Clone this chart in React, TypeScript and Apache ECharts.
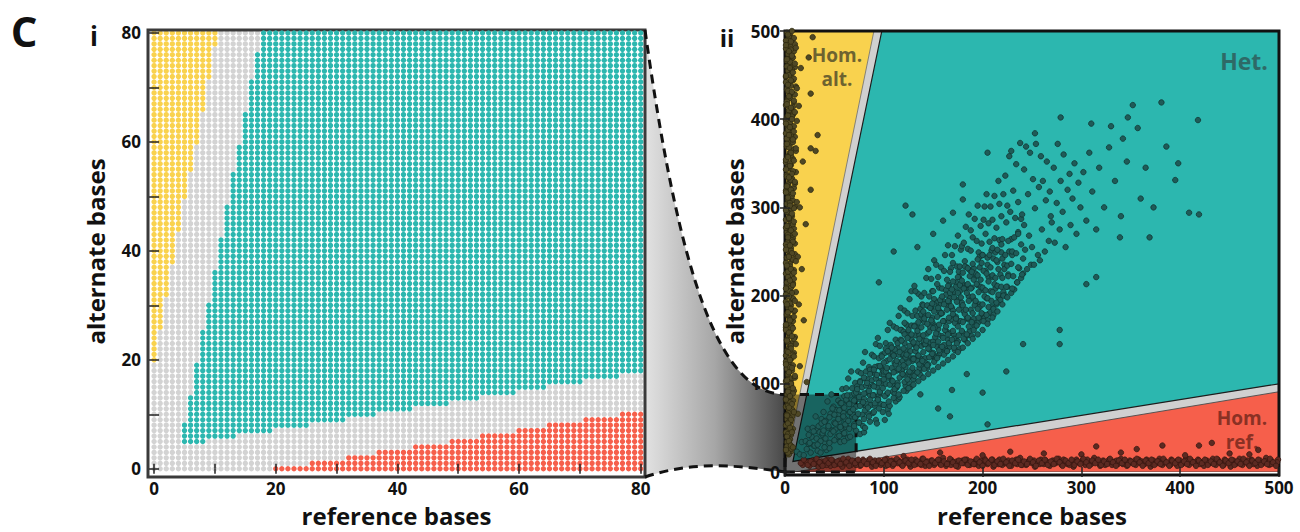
import React, { useEffect, useRef } from "react";
import * as echarts from "echarts";

const FONT = '"Open Sans", "DejaVu Sans", sans-serif';

// ---------- panel i : genotype call for every (reference, alternate) depth ----------
const depthAxisLabels = [0, 20, 40, 60, 80];
const depthAxisTicks = [0, 10, 20, 30, 40, 50, 60, 70, 80];
// hom. alt. when alternate >= homAltFrom[ref] (ref 0..10)
const homAltFrom = [20, 26, 32, 38, 44, 50, 55, 60, 66, 72, 78];
// het. when hetFrom[ref] <= alternate <= hetTo[ref]
const hetFrom = [
  null, null, null, null, null, 5, 5, 5, 5, 6,
  6, 6, 6, 6, 7, 7, 7, 7, 7, 7,
  8, 8, 8, 8, 8, 8, 9, 9, 9, 9,
  9, 9, 10, 10, 10, 10, 10, 11, 11, 11,
  11, 11, 11, 12, 12, 12, 12, 12, 12, 13,
  13, 13, 13, 13, 14, 14, 14, 14, 14, 14,
  15, 15, 15, 15, 15, 16, 16, 16, 16, 16,
  16, 17, 17, 17, 17, 17, 17, 18, 18, 18,
  18,
];
const hetTo = [
  null, null, null, null, null, 8, 13, 19, 25, 30,
  36, 42, 48, 54, 59, 65, 71, 76, 80, 80,
  80, 80, 80, 80, 80, 80, 80, 80, 80, 80,
  80, 80, 80, 80, 80, 80, 80, 80, 80, 80,
  80, 80, 80, 80, 80, 80, 80, 80, 80, 80,
  80, 80, 80, 80, 80, 80, 80, 80, 80, 80,
  80, 80, 80, 80, 80, 80, 80, 80, 80, 80,
  80, 80, 80, 80, 80, 80, 80, 80, 80, 80,
  80,
];
// hom. ref. when alternate <= homRefTo[ref]
const homRefTo = [
  null, null, null, null, null, null, null, null, null, null,
  null, null, null, null, null, null, null, null, null, null,
  0, 0, 0, 0, 0, 0, 1, 1, 1, 1,
  1, 1, 2, 2, 2, 2, 2, 3, 3, 3,
  3, 3, 3, 4, 4, 4, 4, 4, 4, 5,
  5, 5, 5, 5, 6, 6, 6, 6, 6, 6,
  7, 7, 7, 7, 7, 8, 8, 8, 8, 8,
  8, 9, 9, 9, 9, 9, 9, 10, 10, 10,
  10,
];

// ---------- panel ii ----------
const bigAxisTicks = [0, 100, 200, 300, 400, 500];
const regionHomAlt = [[0, 6], [0, 500], [90, 500]];
const regionHet = [[98, 500], [500, 500], [500, 100], [8, 12]];
const regionHomRef = [[10, 0], [500, 0], [500, 91]];
const zoomBox = [72, 88];

const homAltSites = [
  [2,498],[5,495],[8,491],[3,487],[6,483],[1,480],[9,477],[4,473],[7,469],[2,466],[5,462],[10,459],[3,455],[6,451],[1,448],[8,444],[4,441],[11,437],[2,434],[7,430],[5,427],[3,423],[9,419],[1,416],[6,412],[4,409],[8,405],[2,402],[12,398],[5,394],[3,391],[7,387],[1,384],[10,380],[4,376],[6,373],[2,369],[9,366],[5,362],[3,358],[8,355],[1,351],[6,348],[4,344],[11,340],[2,337],[7,333],[5,330],[3,326],[9,322],[1,319],[6,315],[4,312],[8,308],[2,304],[10,301],[5,297],[3,294],[7,290],[1,286],[6,283],[4,279],[9,276],[2,272],[5,268],[8,265],[3,261],[1,258],[6,254],[4,250],[10,247],[2,243],[7,240],[5,236],[3,232],[9,229],[1,225],[6,222],[4,218],[8,214],[2,211],[5,207],[11,204],[3,200],[7,196],[1,193],[6,189],[4,186],[9,182],[2,178],[5,175],[8,171],[3,168],[1,164],[6,160],[4,157],[10,153],[2,150],[7,146],[5,142],[3,139],[9,135],[1,132],[6,128],[4,124],[8,121],[2,117],[5,114],[3,110],[7,106],[1,103],[6,99],[4,96],[9,92],[2,88],[5,85],[8,81],[3,78],[1,74],[6,70],[4,67],[7,63],[2,60],[5,56],[3,52],[8,49],[1,45],[6,42],[4,38],[2,34],[5,31],[3,27],[7,24],[4,20],
  [7,500],[4,494],[1,489],[10,485],[6,479],[3,474],[8,470],[5,465],[2,460],[7,456],[4,450],[9,446],[1,442],[6,438],[3,432],[10,428],[5,424],[2,420],[8,414],[4,410],[7,403],[1,399],[5,396],[9,392],[3,388],[6,382],[2,378],[8,374],[4,368],[11,364],[6,359],[1,354],[5,350],[3,346],[8,341],[2,335],[6,331],[10,327],[4,323],[1,317],[7,313],[3,309],[5,305],[9,299],[2,295],[6,291],[4,287],[8,281],[1,277],[5,273],[3,269],[7,263],[10,259],[2,255],[6,251],[4,245],[8,241],[1,237],[5,233],[3,227],[7,223],[9,219],[2,215],[6,209],[4,205],[1,201],[8,197],[5,191],[3,187],[10,183],[2,179],[6,173],[4,169],[7,165],[1,161],[5,155],[9,151],[3,147],[6,143],[2,137],[8,133],[4,129],[1,125],[5,119],[7,115],[3,111],[10,107],[6,101],[2,97],[4,93],[8,89],[1,83],[5,79],[3,75],[7,71],[2,65],[5,61],[4,57],[1,53],[6,47],[3,43],[5,37],[2,29],[6,26],[3,22],
  [28,493],[24,470],[16,458],[26,429],[14,415],[33,382],[26,367],[31,364],[18,352],[26,320],[15,300],[21,281],[13,244],[17,230],[14,190],[19,172],[15,120],[22,102],[13,66],
];
const homAltSitesDense = [
  [3,496],[9,492],[6,488],[1,484],[11,481],[4,477],[7,472],[2,468],[10,463],[5,458],[8,453],[1,449],[6,444],[3,439],[12,435],[7,431],[4,426],[9,421],[2,417],[6,413],[10,408],[3,404],[7,400],[1,395],[5,391],[9,386],[4,382],[8,377],[2,372],[11,367],[6,362],[3,357],[9,353],[5,347],[1,343],[7,338],[4,334],[10,329],[2,324],[6,320],[8,316],[3,311],[12,306],[5,302],[1,297],[7,293],[4,288],[9,284],[2,279],[6,274],[10,270],[3,266],[8,261],[5,257],[1,252],[7,248],[4,244],[11,239],[2,234],[6,230],[9,226],[3,221],[5,217],[8,212],[1,208],[7,203],[4,199],[10,194],[2,190],[6,185],[3,181],[9,176],[5,172],[1,167],[8,163],[4,158],[7,154],[2,149],[11,145],[6,140],[3,136],[9,131],[5,127],[1,122],[7,118],[4,113],[10,109],[2,104],[6,100],[8,95],[3,91],[5,86],[1,82],[7,77],[4,73],[9,68],[2,64],[6,59],[3,55],[5,50],[7,45],[2,40],[4,35],[6,30],[1,25],[8,28],
];

const homRefSites = [
  [18,8],[22,11],[25,7],[28,13],[31,9],[34,6],[37,12],[40,10],[43,14],[46,7],[49,11],[52,9],[55,13],[58,6],[61,10],[64,15],[67,8],[70,12],[73,10],[76,7],[79,14],[82,9],[85,11],[88,6],[91,13],[94,10],[97,8],[100,12],[103,15],[106,9],[109,7],[112,11],[115,13],[118,8],[121,10],[124,14],[127,6],[130,12],[133,9],[136,11],[139,15],[142,7],[145,10],[148,13],[151,8],[154,12],[157,9],[160,16],[163,7],[166,11],[169,13],[172,9],[175,6],[178,12],[181,10],[184,14],[187,8],[190,11],[193,13],[196,7],[199,10],[202,15],[205,9],[208,12],[211,6],[214,11],[217,14],[220,8],[223,10],[226,13],[229,7],[232,12],[235,9],[238,16],[241,11],[244,8],[247,13],[250,10],[253,6],[256,12],[259,14],[262,9],[265,11],[268,7],[271,13],[274,10],[277,15],[280,8],[283,12],[286,9],[289,11],[292,6],[295,14],[298,10],[301,13],[304,8],[307,12],[310,9],[313,16],[316,11],[319,7],[322,13],[325,10],[328,14],[331,8],[334,12],[337,9],[340,15],[343,11],[346,7],[349,13],[352,10],[355,8],[358,14],[361,12],[364,9],[367,11],[370,6],[373,13],[376,10],[379,15],[382,8],[385,12],[388,9],[391,14],[394,11],[397,7],[400,13],[403,10],[406,16],[409,8],[412,12],[415,9],[418,14],[421,11],[424,7],[427,13],[430,10],[433,15],[436,8],[439,12],[442,9],[445,14],[448,11],[451,6],[454,13],[457,10],[460,15],[463,8],[466,12],[469,9],[472,14],[475,11],[478,7],[481,13],[484,10],[487,16],[490,8],[493,12],[496,10],[499,14],
  [30,12],[36,9],[42,8],[48,13],[54,10],[60,12],[66,11],[72,8],[78,11],[84,13],[90,9],[96,12],[102,7],[108,13],[114,10],[120,12],[126,9],[132,14],[138,8],[144,12],[150,11],[156,14],[162,10],[168,8],[174,12],[180,13],[186,10],[192,9],[198,13],[204,11],[210,14],[216,9],[222,12],[228,10],[234,14],[240,8],[246,11],[252,13],[258,9],[264,13],[270,10],[276,12],[282,14],[288,8],[294,11],[300,10],[306,14],[312,12],[318,10],[324,8],[330,12],[336,13],[342,9],[348,11],[354,13],[360,10],[366,14],[372,9],[378,12],[384,11],[390,8],[396,12],[402,9],[408,13],[414,11],[420,9],[426,12],[432,11],[438,14],[444,8],[450,12],[456,9],[462,11],[468,13],[474,9],[480,11],[486,12],[492,9],[498,11],
  [157,22],[228,23],[315,29],[382,30],[419,30],[432,33],[479,25],[356,26],[262,21],[300,20],[340,22],[405,19],[450,21],[200,19],[120,18],[470,20],
];
const homRefSitesDense = [
  [16,10],[19,14],[23,8],[26,12],[29,9],[32,15],[35,11],[38,7],[41,13],[44,10],[47,14],[50,8],[53,12],[56,9],[59,15],[62,11],[65,7],[68,13],[71,10],[74,14],[77,8],[80,12],[83,9],[86,15],[89,11],[92,7],[95,13],[98,10],[101,14],[104,8],[107,12],[110,9],[113,15],[116,11],[119,7],[122,13],[125,10],[128,14],[131,8],[134,12],[137,9],[140,15],[143,11],[146,7],[149,13],[152,10],[155,14],[158,8],[161,12],[164,9],[167,15],[170,11],[173,7],[176,13],[179,10],[182,14],[185,8],[188,12],[191,9],[194,15],[197,11],[200,7],[203,13],[206,10],[209,14],[212,8],[215,12],[218,9],[221,15],[224,11],[227,7],[230,13],[233,10],[236,14],[239,8],[242,12],[245,9],[248,15],[251,11],[254,7],[257,13],[260,10],[263,14],[266,8],[269,12],[272,9],[275,15],[278,11],[281,7],[284,13],[287,10],[290,14],[293,8],[296,12],[299,9],[302,15],[305,11],[308,7],[311,13],[314,10],[317,14],[320,8],[323,12],[326,9],[329,15],[332,11],[335,7],[338,13],[341,10],[344,14],[347,8],[350,12],[353,9],[356,15],[359,11],[362,7],[365,13],[368,10],[371,14],[374,8],[377,12],[380,9],[383,15],[386,11],[389,7],[392,13],[395,10],[398,14],[401,8],[404,12],[407,9],[410,15],[413,11],[416,7],[419,13],[422,10],[425,14],[428,8],[431,12],[434,9],[437,15],[440,11],[443,7],[446,13],[449,10],[452,14],[455,8],[458,12],[461,9],[464,15],[467,11],[470,7],[473,13],[476,10],[479,14],[482,8],[485,12],[488,9],[491,15],[494,11],[497,7],
];

const hetSites = [
  [12,23],[15,20],[17,34],[19,19],
  [21,35],[23,49],[24,32],[26,22],[28,50],[29,30],
  [31,63],[32,47],[33,24],[35,45],[36,22],[37,60],[38,42],[39,68],
  [40,34],[41,58],[42,25],[43,80],[44,50],[45,27],[46,66],[47,88],[48,47],[49,74],
  [50,56],[51,48],[52,70],[53,40],[54,65],[54,81],[55,57],[56,34],[56,78],[57,49],[58,94],[58,71],[59,43],[59,67],
  [60,35],[60,86],[61,60],[62,95],[62,51],[63,80],[64,39],[64,106],[65,68],[66,40],[66,87],[67,114],[68,63],[68,95],[69,76],[69,65],
  [70,89],[70,54],[71,82],[71,101],[72,74],[72,47],[73,97],[73,64],[74,114],[74,89],[75,56],[75,83],[76,43],[76,103],[77,76],[77,112],[78,65],[78,96],[79,52],[79,124],
  [80,83],[80,45],[81,106],[81,136],[82,74],[82,114],[83,90],[83,77],[84,105],[84,66],[85,97],[85,119],[86,87],[86,57],[87,114],[87,76],[88,133],[88,104],[89,67],[89,98],[81,50],[86,116],
  [90,87],[90,131],[91,75],[91,111],[92,59],[92,145],[93,96],[93,55],[94,120],[94,152],[95,87],[95,129],[96,103],[96,90],[97,119],[97,77],[98,111],[98,133],[99,100],[99,68],[91,119],[94,82],[96,143],[99,115],
  [100,76],[100,110],[101,59],[101,135],[102,100],[102,146],[103,88],[103,126],[104,71],[104,161],[105,110],[105,66],[106,135],[106,169],[107,100],[107,144],[108,118],[108,104],[109,135],[109,91],[100,114],[102,140],[104,107],[106,75],[108,140],[109,99],
  [110,165],[110,132],[111,89],[111,124],[112,80],[112,150],[113,115],[113,163],[114,101],[114,141],[115,83],[115,177],[116,124],[116,85],[117,150],[117,186],[118,114],[118,161],[119,132],[119,117],[111,139],[113,96],[115,133],[117,161],[119,126],[112,95],
  [120,159],[120,110],[121,183],[121,146],[122,98],[122,138],[123,92],[123,167],[124,127],[124,180],[125,112],[125,155],[126,100],[126,196],[127,137],[127,96],[128,166],[128,205],[129,126],[129,177],[120,133],[122,119],[124,157],[126,108],[128,150],[121,169],[125,132],[129,108],
  [130,145],[130,129],[131,166],[131,113],[132,155],[132,183],[133,142],[133,112],[134,177],[134,126],[135,202],[135,163],[136,114],[136,155],[137,110],[137,185],[138,143],[138,199],[139,128],[139,173],[130,105],[132,205],[134,146],[136,118],[138,179],[131,211],[135,132],[139,190],
  [140,120],[140,189],[141,145],[141,203],[142,129],[142,177],[143,122],[143,220],[144,157],[144,118],[145,188],[145,230],[146,143],[146,199],[147,164],[147,147],[148,186],[148,131],[149,175],[149,205],[140,149],[142,124],[144,189],[146,139],[148,219],[141,170],[145,122],[149,170],
  [150,205],[150,148],[151,240],[151,196],[152,128],[152,166],[153,235],[153,130],[154,192],[154,142],[155,221],[155,162],[156,209],[156,133],[157,179],[157,135],[158,191],[158,232],[159,154],[159,208],[150,135],[152,164],[154,213],[156,183],[158,142],[151,190],[155,156],[159,180],
  [160,194],[160,140],[161,228],[161,171],[162,246],[162,140],[163,206],[163,160],[164,218],[164,137],[165,189],[165,257],[166,171],[166,212],[167,142],[167,197],[168,231],[168,158],[169,186],[169,246],[161,144],[163,201],[165,150],[167,227],[169,173],[166,193],
  [170,183],[170,237],[171,156],[171,204],[172,256],[172,138],[173,215],[173,176],[174,233],[174,149],[175,195],[175,268],[176,171],[176,227],[177,140],[177,205],[178,252],[178,171],[179,189],[179,256],[171,151],[173,210],[175,148],[177,233],[179,192],[176,221],
  [180,213],[180,158],[181,260],[181,182],[182,239],[182,150],[183,208],[183,278],[184,174],[184,232],[185,155],[185,253],[186,199],[186,292],[187,160],[187,229],[188,184],[188,251],[189,209],[189,154],[182,233],[184,212],[186,173],[188,274],
  [190,197],[190,266],[191,174],[191,231],[192,287],[192,165],[193,222],[193,192],[194,262],[194,169],[195,302],[195,212],[196,249],[196,170],[197,244],[197,190],[198,279],[198,210],[199,172],[199,259],[193,225],[197,187],
  [200,246],[200,179],[201,286],[201,206],[202,301],[202,175],[203,228],[203,270],[204,197],[204,315],[205,172],[205,243],[206,221],[206,282],[207,180],[207,261],[208,205],[208,301],[209,187],[209,251],
  [210,221],[210,286],[211,178],[212,265],[212,313],[213,208],[213,249],[214,190],[214,277],[215,238],[216,330],[216,198],[217,263],[217,304],[218,195],[218,224],[219,290],[219,249],
  [220,264],[221,204],[221,315],[222,235],[223,336],[223,200],[224,283],[225,210],[225,302],[226,224],[227,358],[227,250],[228,295],[229,203],[229,264],
  [230,246],[231,319],[232,207],[233,288],[234,349],[235,215],[236,272],[236,306],[237,231],[238,373],[239,220],[239,287],
  [240,292],[241,225],[242,343],[243,252],[244,369],[245,230],[246,315],[247,268],[248,362],[249,235],
  [250,255],[251,332],[252,235],[253,299],[254,372],[256,246],[257,323],[258,240],[259,358],
  [260,275],[261,330],[263,250],[264,308],[265,352],[267,262],[268,318],[269,290],
  [270,283],[272,345],[273,260],[275,305],[276,372],[278,275],[279,330],
  [281,295],[282,360],[284,255],[286,320],[288,338],[289,280],
  [291,310],[293,350],[295,270],[297,328],[299,300],
  [302,340],[305,285],[308,362],[311,318],[315,275],[318,345],
  [323,300],[328,368],[334,330],[340,290],[346,352],
  [352,416],[381,419],[418,399],[347,402],[279,402],[386,369],[357,390],[342,378],[365,345],[395,331],[360,310],[409,294],[419,292],[373,300],[398,350],[330,392],[310,395],
  [205,362],[229,364],[253,384],[122,302],[129,292],[170,294],[180,326],[180,309],[134,255],[150,270],[110,250],[95,215],[160,285],
  [369,266],[339,266],[315,221],[305,213],[278,161],[278,145],[241,145],[224,114],[200,90],[205,54],[167,63],[155,72],[184,111],[169,93],[137,88],
];
const hetCoreSites = [
  [22,26],[25,33],[27,40],[30,30],[32,38],[34,52],[36,35],[38,44],[24,42],[29,46],[33,31],[37,55],
  [40,28],[41,38],[39,47],[40,57],[45,33],[46,43],[44,52],[45,62],
  [50,36],[49,46],[51,55],[50,65],[48,72],[55,41],[56,51],[54,60],[55,70],[57,78],
  [60,44],[61,54],[59,63],[60,73],[62,82],[65,49],[64,58],[66,68],[65,77],[63,87],
  [70,52],[71,62],[69,71],[70,81],[72,90],[75,56],[74,66],[76,75],[75,85],[73,94],[76,102],
  [80,60],[81,70],[79,79],[80,89],[82,98],[80,107],[85,63],[84,73],[86,82],[85,92],[83,101],[86,111],
  [90,68],[91,78],[89,87],[90,97],[92,106],[90,116],[95,72],[94,82],[96,91],[95,101],[93,110],[96,120],
  [100,76],[101,86],[99,95],[100,105],[102,114],[100,124],[98,131],[105,80],[104,90],[106,99],[105,109],[103,118],[106,128],[104,137],
  [110,84],[111,94],[109,103],[110,113],[112,122],[110,132],[108,141],[115,88],[114,98],[116,107],[115,117],[113,126],[116,136],[114,146],
  [120,92],[121,102],[119,111],[120,121],[122,130],[120,140],[118,149],[121,156],[125,95],[124,105],[126,114],[125,124],[123,133],[126,143],[124,152],[125,161],
  [130,99],[131,109],[129,118],[130,128],[132,137],[130,147],[128,156],[131,165],[135,103],[134,113],[136,122],[135,132],[133,141],[136,151],[134,160],[135,170],
  [140,107],[141,117],[139,126],[140,136],[142,145],[140,155],[138,164],[141,174],[140,182],[145,111],[144,121],[146,130],[145,140],[143,149],[146,159],[144,168],[145,178],[147,186],
  [150,115],[151,125],[149,134],[150,144],[152,153],[150,163],[148,172],[151,182],[149,191],[155,119],[154,129],[156,138],[155,148],[153,157],[156,167],[154,176],[155,186],[157,195],
  [160,123],[161,133],[159,142],[160,152],[162,161],[160,171],[158,180],[161,190],[159,199],[165,127],[164,137],[166,146],[165,156],[163,165],[166,175],[164,184],[165,194],[167,203],[165,211],
  [170,131],[171,141],[169,150],[170,160],[172,169],[170,179],[168,188],[171,198],[169,207],[170,216],[175,136],[174,146],[176,155],[175,165],[173,174],[176,184],[174,193],[175,203],[177,212],[175,221],
  [180,141],[181,151],[179,160],[180,170],[182,179],[180,189],[178,198],[181,208],[179,217],[180,226],[185,146],[184,156],[186,165],[185,175],[183,184],[186,194],[184,203],[185,213],[187,222],[185,231],
  [190,151],[191,161],[189,170],[190,180],[192,189],[190,199],[188,208],[191,218],[189,227],[190,236],[195,156],[194,166],[196,175],[195,185],[193,194],[196,204],[194,213],[195,223],[197,232],[195,241],
  [200,161],[201,171],[199,180],[200,190],[202,199],[200,209],[198,218],[201,228],[199,237],[200,246],[205,168],[204,178],[206,187],[205,197],[203,206],[206,216],[204,225],[205,235],[207,246],
  [210,175],[211,185],[209,194],[210,204],[212,213],[210,223],[208,232],[211,242],[210,254],[215,182],[214,192],[216,201],[215,211],[213,220],[216,230],[214,240],[215,252],
  [220,190],[221,200],[219,210],[220,220],[222,230],[220,242],[219,258],[225,198],[224,210],[226,222],[225,234],[223,246],[226,262],
  [230,208],[231,222],[229,236],[230,250],[232,266],[235,215],[236,232],[234,248],[236,270],[240,224],[241,242],[239,258],[242,280],
];

const COLORS = {
  homAlt: "#F9D24E",
  none: "#D3D3D3",
  het: "#2CB7AF",
  homRef: "#F65F4B",
};

function buildOption() {
  const alt: number[][] = [];
  const none: number[][] = [];
  const het: number[][] = [];
  const ref: number[][] = [];
  for (let r = 0; r < hetTo.length; r++) {
    for (let a = 0; a <= 80; a++) {
      const p = [r, a];
      if (r < homAltFrom.length && a >= homAltFrom[r]) alt.push(p);
      else if (hetFrom[r] != null && a >= (hetFrom[r] as number) && a <= (hetTo[r] as number)) het.push(p);
      else if (homRefTo[r] != null && a <= (homRefTo[r] as number)) ref.push(p);
      else none.push(p);
    }
  }

  const tickLabel = { fontFamily: FONT, fontWeight: "bold" as const, fontSize: 17, color: "#111" };
  const nameStyle = { fontFamily: FONT, fontWeight: "bold" as const, fontSize: 24, color: "#111" };
  const tickStyle = { color: "#222", width: 1.5 };

  const leftX = (pos: string, labels: boolean) => ({
    gridIndex: 0, type: "value", position: pos, min: -1, max: 80.7, z: 10,
    axisLine: { show: false }, splitLine: { show: false },
    axisTick: { show: true, inside: true, length: 5, customValues: depthAxisTicks, lineStyle: tickStyle },
    axisLabel: { show: labels, customValues: depthAxisLabels, margin: 7, ...tickLabel },
    ...(labels ? { name: "reference bases", nameLocation: "middle", nameGap: 30, nameTextStyle: nameStyle } : {}),
  });
  const leftY = (pos: string, labels: boolean) => ({
    gridIndex: 0, type: "value", position: pos, min: -0.78, max: 80.55, z: 10,
    axisLine: { show: false }, splitLine: { show: false },
    axisTick: { show: true, inside: true, length: 5, customValues: depthAxisTicks, lineStyle: tickStyle },
    axisLabel: { show: labels, customValues: depthAxisLabels, margin: 7, ...tickLabel },
    ...(labels ? { name: "alternate bases", nameLocation: "middle", nameGap: 41, nameTextStyle: nameStyle } : {}),
  });
  const rightX = (pos: string, labels: boolean) => ({
    gridIndex: 1, type: "value", position: pos, min: 0, max: 500, interval: 100, z: 10,
    axisLine: { show: false }, splitLine: { show: false },
    axisTick: { show: true, inside: true, length: 5, lineStyle: tickStyle },
    axisLabel: { show: labels, customValues: bigAxisTicks, margin: 7, ...tickLabel },
    ...(labels ? { name: "reference bases", nameLocation: "middle", nameGap: 31, nameTextStyle: nameStyle } : {}),
  });
  const rightY = (pos: string, labels: boolean) => ({
    gridIndex: 1, type: "value", position: pos, min: 0, max: 500, interval: 100, z: 10,
    axisLine: { show: false }, splitLine: { show: false },
    axisTick: { show: true, inside: true, length: 5, lineStyle: tickStyle },
    axisLabel: { show: labels, customValues: bigAxisTicks, margin: 5, ...tickLabel },
    ...(labels ? { name: "alternate bases", nameLocation: "middle", nameGap: 31, nameTextStyle: nameStyle } : {}),
  });

  const regions = [
    { pts: regionHomAlt, fill: COLORS.homAlt, stroke: "#6d6d6d", lw: 0.8 },
    { pts: regionHet, fill: COLORS.het, stroke: "#1d1d1d", lw: 1.2 },
    { pts: regionHomRef, fill: COLORS.homRef, stroke: "#4a4a4a", lw: 0.9 },
  ];

  const dots = (data: number[][], color: string) => ({
    type: "scatter", xAxisIndex: 0, yAxisIndex: 0, data, symbolSize: 5.4, silent: true, z: 2,
    itemStyle: { color, opacity: 1 },
  });
  const sites = (data: number[][], color: string, border: string) => ({
    type: "scatter", xAxisIndex: 2, yAxisIndex: 2, data, symbolSize: 5.5, silent: true, z: 3,
    itemStyle: { color, borderColor: border, borderWidth: 0.7, opacity: 1 },
  });

  return {
    animation: false,
    backgroundColor: "#ffffff",
    grid: [
      { left: 148, top: 30, width: 497, height: 447, show: false },
      { left: 785, top: 31, width: 494, height: 444, show: true, backgroundColor: "#D0D0D0", borderWidth: 0 },
    ],
    xAxis: [leftX("bottom", true), leftX("top", false), rightX("bottom", true), rightX("top", false)],
    yAxis: [leftY("left", true), leftY("right", false), rightY("left", true), rightY("right", false)],
    series: [
      dots(none, COLORS.none),
      dots(alt, COLORS.homAlt),
      dots(het, COLORS.het),
      dots(ref, COLORS.homRef),
      {
        type: "custom", xAxisIndex: 2, yAxisIndex: 2, silent: true, z: 1, clip: true,
        data: regions.map((r) => [r.pts[0][0], r.pts[0][1]]),
        renderItem: (params: any, api: any) => {
          const r = regions[params.dataIndex];
          return {
            type: "polygon",
            shape: { points: r.pts.map((p) => api.coord(p)) },
            style: { fill: r.fill, stroke: r.stroke, lineWidth: r.lw },
          };
        },
      },
      sites(homAltSites.concat(homAltSitesDense), "#4f4825", "#29250f"),
      sites(homRefSites.concat(homRefSitesDense), "#5c2a22", "#331510"),
      sites(hetSites.concat(hetCoreSites), "#1f5b58", "#0f2f2d"),
    ],
  };
}

export default function App() {
  const ref = useRef<HTMLDivElement>(null);
  useEffect(() => {
    if (!ref.current) return;
    const chart = echarts.init(ref.current, null, { renderer: "svg" });
    chart.setOption(buildOption() as any);

    const tl = chart.convertToPixel({ gridIndex: 1 }, [0, zoomBox[1]]) as number[];
    const br = chart.convertToPixel({ gridIndex: 1 }, [zoomBox[0], 0]) as number[];
    const L = { x: 148, y: 30, w: 497, h: 447 };
    const R = { x: 785, y: 31, w: 494, h: 444 };
    const lx = L.x + L.w;
    const d =
      `M${lx},${L.y} C680,280 720,${tl[1]} ${tl[0]},${tl[1]} L${tl[0]},${br[1]} ` +
      `C730,464 690,462 ${lx},${L.y + L.h} Z`;
    echarts.graphic.registerShape("connector", (echarts.graphic as any).extendPath(d, {}));

    const label = (text: string, x: number, y: number, size: number, fill: string) => ({
      type: "text", x, y, z: 100, silent: true,
      style: {
        text, fill, fontFamily: FONT, fontWeight: "bold", fontSize: size,
        textAlign: "center", textVerticalAlign: "middle", lineHeight: size,
      },
    });

    chart.setOption({
      graphic: [
        {
          type: "connector", x: 0, y: 0, z: 40, silent: true, shape: {},
          style: {
            fill: new echarts.graphic.LinearGradient(0, 0, 1, 0, [
              { offset: 0, color: "#e2e2e2" },
              { offset: 0.5, color: "#a6a6a6" },
              { offset: 1, color: "#484848" },
            ]),
          },
        },
        {
          type: "bezierCurve", z: 60, silent: true,
          shape: { x1: lx, y1: L.y, cpx1: 680, cpy1: 280, cpx2: 720, cpy2: tl[1], x2: tl[0], y2: tl[1] },
          style: { stroke: "#111", lineWidth: 3, lineDash: [9, 6], fill: null },
        },
        {
          type: "bezierCurve", z: 60, silent: true,
          shape: { x1: lx, y1: L.y + L.h, cpx1: 690, cpy1: 462, cpx2: 730, cpy2: 464, x2: tl[0], y2: br[1] },
          style: { stroke: "#111", lineWidth: 3, lineDash: [9, 6], fill: null },
        },
        {
          type: "rect", z: 60, silent: true,
          shape: { x: tl[0], y: tl[1], width: br[0] - tl[0], height: br[1] - tl[1] },
          style: { fill: "rgba(0,0,0,0.45)", stroke: "#111", lineWidth: 3, lineDash: [9, 6] },
        },
        {
          type: "rect", z: 50, silent: true,
          shape: { x: L.x, y: L.y, width: L.w, height: L.h },
          style: { fill: null, stroke: "#3a3a3a", lineWidth: 3 },
        },
        {
          type: "rect", z: 50, silent: true,
          shape: { x: R.x, y: R.y, width: R.w, height: R.h },
          style: { fill: null, stroke: "#111", lineWidth: 3 },
        },
        label("C", 24, 30, 42, "#111"),
        label("i", 94, 36, 26, "#111"),
        label("ii", 727, 37, 24, "#111"),
        label("Hom.", 837, 55, 19, "#6e6330"),
        label("alt.", 837, 79, 19, "#6e6330"),
        label("Het.", 1244, 61, 23, "#2e6a67"),
        label("Hom.", 1242, 418, 19, "#8a3124"),
        label("ref.", 1242, 442, 19, "#8a3124"),
      ],
    } as any);

    return () => chart.dispose();
  }, []);
  return (
    <div
      ref={ref}
      style={{ position: "fixed", left: 0, top: 0, width: 1300, height: 532, background: "#fff" }}
    />
  );
}
